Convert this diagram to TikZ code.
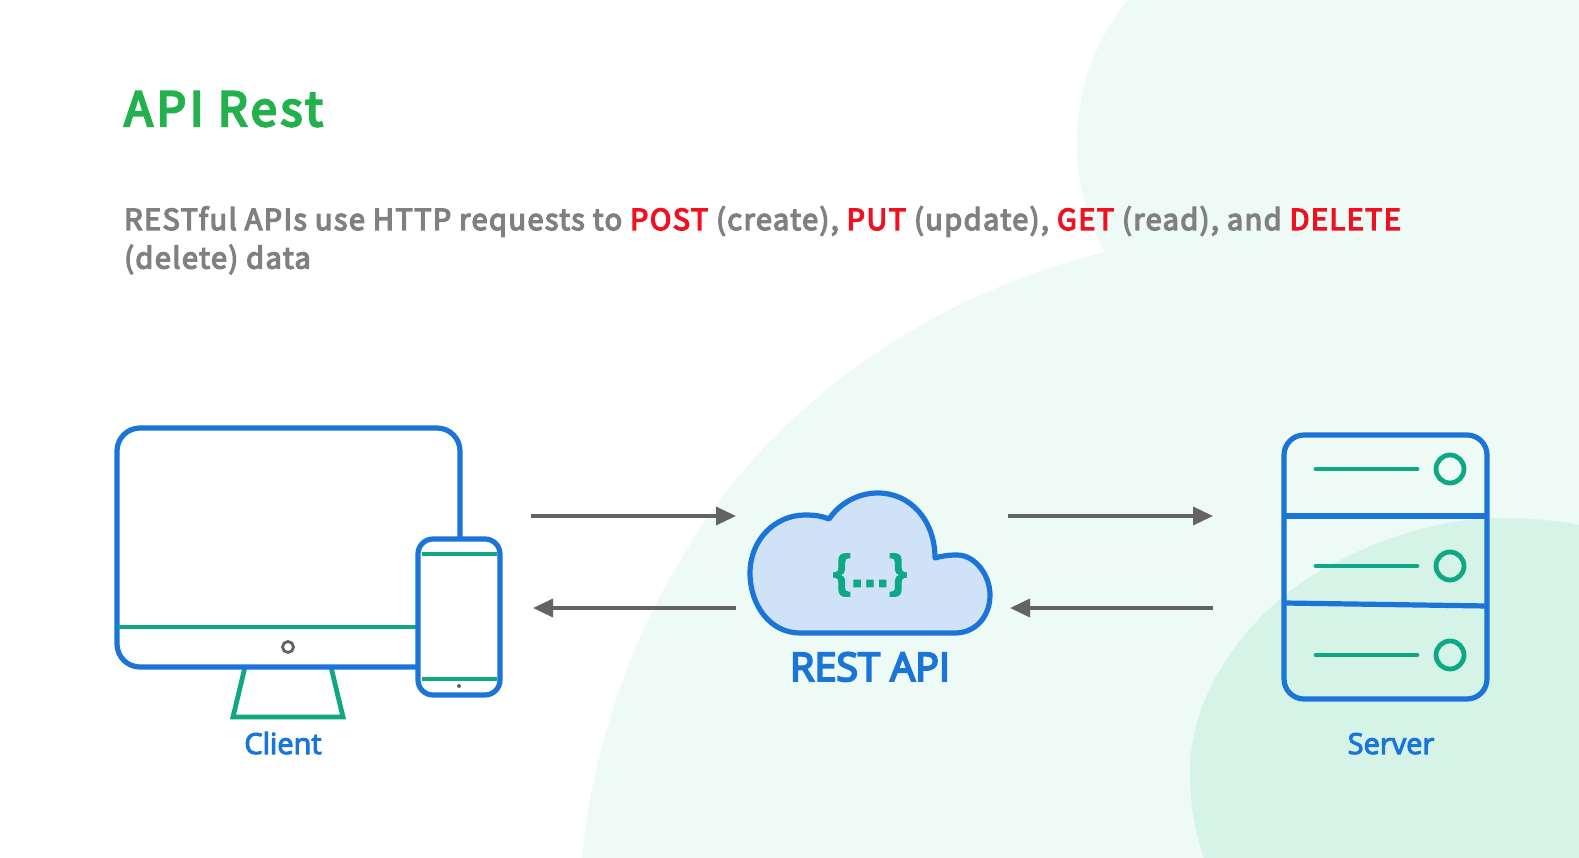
\documentclass[tikz,border=0pt]{standalone}
\usepackage{fontspec}
\usetikzlibrary{arrows.meta}
\setmainfont{Noto Sans CJK JP}
\newfontfamily\labelfont{Open Sans}
\newfontfamily\bodyfont[LetterSpace=4.85,FakeBold=4.5]{Noto Sans CJK JP}
\newfontfamily\titlefont[LetterSpace=7.8,FakeBold=5]{Noto Sans CJK JP}
\newfontfamily\capfont[FakeBold=3.5]{Open Sans}
\newfontfamily\restfont[FakeBold=5]{Open Sans}
\newfontfamily\bracefont[FakeBold=2]{Liberation Sans Bold}
\definecolor{bgA}{HTML}{EDFAF5}
\definecolor{bgB}{HTML}{D5F3E6}
\definecolor{iconblue}{HTML}{1B74D8}
\definecolor{icongreen}{HTML}{0FA884}
\definecolor{cloudfill}{HTML}{CFE2F8}
\definecolor{titlegreen}{HTML}{22B14C}
\definecolor{bodygray}{HTML}{808080}
\definecolor{hotred}{HTML}{F01020}
\definecolor{arrowgray}{HTML}{636363}
\tikzset{
  blueline/.style={draw=iconblue,line width=5.2pt},
  greenline/.style={draw=icongreen,line width=4.8pt},
  flow/.style={draw=arrowgray,line width=3.4pt,-{Triangle[length=20pt,width=18pt]}},
  caption/.style={text=iconblue,inner sep=0pt,anchor=base,font=\capfont\fontsize{29}{30}\selectfont},
  bodytext/.style={text=bodygray,inner sep=0pt,anchor=base west,font=\bodyfont\fontsize{29}{30}\selectfont},
}
\newcommand{\hot}[1]{\textcolor{hotred}{#1}}
\begin{document}
\begin{tikzpicture}[x=1pt,y=-1pt]
\path[use as bounding box,fill=white] (0,0) rectangle (1579,858);
% background blobs
\fill[bgA] (1128,0) .. controls (1095,40) and (1077,90) .. (1077,142)
  .. controls (1077,190) and (1090,225) .. (1105,252)
  .. controls (950,290) and (810,380) .. (720,500)
  .. controls (640,610) and (595,730) .. (582,858)
  -- (1579,858) -- (1579,0) -- cycle;
\fill[bgB] (1204,858) .. controls (1193,825) and (1190,800) .. (1190,772)
  .. controls (1190,690) and (1250,615) .. (1310,577)
  .. controls (1370,540) and (1440,518) .. (1500,518)
  .. controls (1530,518) and (1560,521) .. (1579,525)
  -- (1579,858) -- cycle;
% title and text
\node[inner sep=0pt,anchor=base west,text=titlegreen,font=\titlefont\fontsize{47}{52}\selectfont] (title) at (124,126) {API Rest};
\node[bodytext] (line1) at (124,230) {RESTful APIs use HTTP requests to \hot{POST} (create), \hot{PUT} (update), \hot{GET} (read), and \hot{DELETE}};
\node[bodytext] (line2) at (124,268.5) {(delete) data};
% client
\draw[icongreen,line width=4.8pt] (245,667) -- (233,717) -- (343,717) -- (331,667);
\draw[blueline,rounded corners=23pt] (420,667) -- (117,667) -- (117,428) -- (460,428) -- (460,540);
\draw[greenline] (118,627) -- (420,627);
\node[circle,draw=arrowgray,line width=2.8pt,minimum size=11pt,inner sep=0pt] (button) at (288,647) {};
\node[rounded corners=15pt,blueline,fill=white,minimum width=82pt,minimum height=156pt,inner sep=0pt,outer sep=0pt] (phone) at (459,617) {};
\draw[greenline] (422,554) -- (497,554);
\draw[greenline] (422,679) -- (497,679);
\node[circle,fill=arrowgray,minimum size=4pt,inner sep=0pt] (dot) at (459,686) {};
\node[caption] (client) at (283,754) {Client};
% arrows
\coordinate (a1) at (531,516); \coordinate (a2) at (736,516);
\coordinate (a3) at (736,608); \coordinate (a4) at (533,608);
\coordinate (b1) at (1008,516); \coordinate (b2) at (1213,516);
\coordinate (b3) at (1213,608); \coordinate (b4) at (1010,608);
\draw[flow] (a1) -- (a2);
\draw[flow] (a3) -- (a4);
\draw[flow] (b1) -- (b2);
\draw[flow] (b3) -- (b4);
% cloud
\draw[iconblue,line width=5.2pt,fill=cloudfill,line join=round]
  (800,633) .. controls (770,633) and (750,605) .. (750,573)
  .. controls (750,540) and (775,515) .. (805,515)
  .. controls (815,515) and (822,516) .. (829,519)
  .. controls (840,503) and (858,493) .. (878,493)
  .. controls (910,493) and (935,520) .. (935,558)
  .. controls (942,556) and (948,555) .. (957,555)
  .. controls (975,555) and (990,575) .. (990,595)
  .. controls (990,617) and (975,633) .. (955,633) -- cycle;
\node[inner sep=0pt,text=icongreen,font=\bracefont\fontsize{46}{50}\selectfont] (braces) at (870,575) {\{...\}};
\node[caption,font=\restfont\fontsize{39.5}{40}\selectfont] (rest) at (870,681) {REST API};
% server
\draw[blueline,rounded corners=20pt] (1284,435) rectangle (1487,699);
\draw[blueline] (1284,516) -- (1487,516);
\draw[blueline] (1284,603) -- (1487,606);
\foreach \ln/\yy in {u/469,m/566,l/655}{
  \coordinate (s\ln) at (1316,\yy);
  \coordinate (t\ln) at (1417,\yy);
  \draw[greenline,line cap=round] (s\ln) -- (t\ln);
  \node[circle,greenline,minimum size=28pt,inner sep=0pt] (c\ln) at (1450,\yy) {};
}
\node[caption] (server) at (1391,754) {Server};
\end{tikzpicture}
\end{document}
